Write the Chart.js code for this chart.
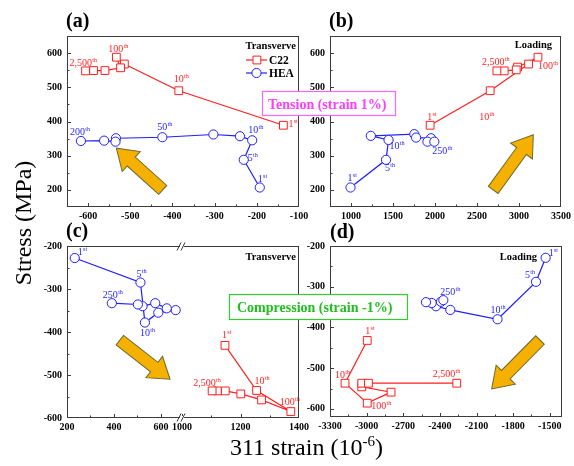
<!DOCTYPE html>
<html>
<head>
<meta charset="utf-8">
<title>311 strain vs stress</title>
<script src="https://cdn.jsdelivr.net/npm/chart.js@4.4.1/dist/chart.umd.min.js"></script>
<style>
  body { margin: 0; background: #fff; }
  #page { position: relative; width: 574px; height: 466px; }
  #page canvas { position: absolute; left: 0; top: 0; }
</style>
</head>
<body>
<div id="page">
  <canvas id="pa" width="574" height="466"></canvas>
  <canvas id="pb" width="574" height="466"></canvas>
  <canvas id="pc" width="574" height="466"></canvas>
  <canvas id="pd" width="574" height="466"></canvas>
</div>
<script>
// (a) tension, transverse
const aC22x = [-137, -385, -514, -533, -523, -560, -587, -606];
const aC22y = [389, 490, 568, 588, 557, 549, 549, 548];
const aHEAx = [-193, -231, -211, -240, -303, -424, -534, -535, -562, -617];
const aHEAy = [207, 288, 345, 357, 362, 354, 351, 341, 344, 343];

// (b) tension, loading
const bC22x = [1942, 2657, 3114, 3226, 2983, 2967, 2824, 2737];
const bC22y = [389, 490, 568, 588, 559, 551, 548, 548];
const bHEAx = [994, 1417, 1447, 1236, 1754, 1775, 1952, 1910, 1992];
const bHEAy = [207, 288, 346, 358, 363, 353, 351, 341, 341];

// (c) compression, transverse (broken x axis)
const cHEAx = [233, 513, 532, 589, 663, 625, 576, 522, 502, 391];
const cHEAy = [-228, -285, -378, -355, -349, -345, -333, -340, -336, -333];
const cC22x = [1147, 1255, 1372, 1272, 1201, 1148, 1121, 1103];
const cC22y = [-431, -536, -585, -558, -544, -537, -537, -537];

// (d) compression, loading
const dHEAx = [-1534, -1613, -1928, -2315, -2432, -2467, -2514, -2391, -2372];
const dHEAy = [-229, -288, -380, -357, -348, -340, -338, -337, -333];
const dC22x = [-2995, -3177, -2995, -2800, -3040, -3040, -2985, -2262];
const dC22y = [-432, -537, -586, -559, -546, -537, -537, -537];

// tick labels
const aXTicks = [-600, -500, -400, -300, -200, -100];
const bXTicks = [1000, 1500, 2000, 2500, 3000, 3500];
const tensionYTicks = [200, 300, 400, 500, 600];
const cXTicksLow = [200, 400, 600];
const cXTicksHigh = [1000, 1200, 1400];
const dXTicks = [-3300, -3000, -2700, -2400, -2100, -1800, -1500];
const compYTicks = [-600, -500, -400, -300, -200];

const serif = '"Liberation Serif", "Times New Roman", serif';
Chart.defaults.font.family = serif;
Chart.defaults.color = '#000';

const RED = '#ff1f1f', BLUE = '#1f1fff';
const W = 574, H = 466, YW = 40, XH = 22;

function steps(from, max, step) {
    const out = [];
    for (let v = from; v <= max + 1e-9; v += step) out.push(v);
    return out;
}

function axis(o, pos) {
    const all = steps(o.from, o.max, o.step);
    const s = {
        type: 'linear', position: pos, min: o.min, max: o.max,
        grid: { display: false, drawTicks: false },
        border: { display: false },
        ticks: {
            autoSkip: false, maxRotation: 0, padding: pos === 'left' ? 5 : 3,
            font: { size: 10, weight: 'bold' },
            callback: v => o.major.includes(v) ? String(v) : ''
        },
        afterBuildTicks: sc => { sc.ticks = all.map(v => ({ value: v })); },
        afterFit: sc => { if (pos === 'left') sc.width = YW; else sc.height = XH; }
    };
    if (o.stack) { s.stack = o.stack; s.stackWeight = o.weight; }
    return s;
}

function series(xs, ys, color, style, xAxisID) {
    return {
        data: xs.map((x, i) => ({ x, y: ys[i] })),
        showLine: true, borderColor: color, borderWidth: 1.2,
        pointStyle: style, pointRadius: style === 'rect' ? 5.5 : 4.6,
        pointBackgroundColor: '#fff', pointBorderColor: color, pointBorderWidth: 1,
        xAxisID: xAxisID
    };
}

function supText(ctx, x, y, base, sup, color, size) {
    size = size || 10;
    ctx.fillStyle = color;
    ctx.textAlign = 'left';
    ctx.textBaseline = 'alphabetic';
    ctx.font = size + 'px ' + serif;
    ctx.fillText(base, x, y);
    const w = ctx.measureText(base).width;
    ctx.font = (size * 0.62) + 'px ' + serif;
    ctx.fillText(sup, x + w + 0.3, y - size * 0.4);
}

function drawArrow(ctx, x0, y0, x1, y1) {
    const ang = Math.atan2(y1 - y0, x1 - x0), len = Math.hypot(x1 - x0, y1 - y0);
    const sw = 6, hw = 13.5, hl = 20;
    ctx.save();
    ctx.translate(x0, y0);
    ctx.rotate(ang);
    ctx.beginPath();
    ctx.moveTo(0, -sw);
    ctx.lineTo(len - hl, -sw);
    ctx.lineTo(len - hl, -hw);
    ctx.lineTo(len, 0);
    ctx.lineTo(len - hl, hw);
    ctx.lineTo(len - hl, sw);
    ctx.lineTo(0, sw);
    ctx.closePath();
    ctx.fillStyle = '#f5b000';
    ctx.fill();
    ctx.strokeStyle = '#6b6a2e';
    ctx.lineWidth = 1;
    ctx.stroke();
    ctx.restore();
}

function boldText(ctx, txt, x, y, size, align) {
    ctx.font = 'bold ' + size + 'px ' + serif;
    ctx.textAlign = align || 'left';
    ctx.fillStyle = '#000';
    ctx.fillText(txt, x, y);
}

// frame, inward ticks, arrow, point labels, corner text
function panelDecor(p) {
    return {
        id: 'panelDecor',
        beforeDatasetsDraw(chart) {
            const sc = chart.scales, ar = p.arrow, xs = sc[ar.axis];
            drawArrow(chart.ctx,
                xs.getPixelForValue(ar.from[0]), sc.y.getPixelForValue(ar.from[1]),
                xs.getPixelForValue(ar.to[0]), sc.y.getPixelForValue(ar.to[1]));
        },
        afterDatasetsDraw(chart) {
            const { ctx, chartArea: a, scales } = chart;
            ctx.save();
            ctx.strokeStyle = '#3c3c3c';
            ctx.lineWidth = 1;
            ctx.strokeRect(a.left + 0.5, a.top + 0.5, a.right - a.left - 1, a.bottom - a.top - 1);
            ctx.beginPath();
            Object.values(scales).forEach(s => {
                const spec = s.axis === 'y' ? p.y : p.x.find(ax => ax.id === s.id);
                s.ticks.forEach(t => {
                    const len = spec.major.includes(t.value) ? 4 : 2.5;
                    const px = Math.round(s.getPixelForValue(t.value)) + 0.5;
                    if (s.axis === 'y') {
                        if (px <= a.top + 1 || px >= a.bottom - 1) return;
                        ctx.moveTo(a.left, px); ctx.lineTo(a.left + len, px);
                    } else {
                        if (px <= a.left + 1 || px >= a.right - 1) return;
                        ctx.moveTo(px, a.bottom); ctx.lineTo(px, a.bottom - len);
                    }
                });
            });
            ctx.stroke();

            if (p.gapAt) {
                const bx = scales[p.gapAt].right;
                [a.top + 0.5, a.bottom - 0.5].forEach(ey => {
                    ctx.fillStyle = '#fff';
                    ctx.fillRect(bx - 2, ey - 1.5, 4, 3);
                    ctx.beginPath();
                    ctx.moveTo(bx - 5, ey + 4); ctx.lineTo(bx - 1, ey - 4);
                    ctx.moveTo(bx - 1, ey + 4); ctx.lineTo(bx + 3, ey - 4);
                    ctx.stroke();
                });
            }

            p.labels.forEach(l => {
                const pt = chart.getDatasetMeta(l.ds).data[l.i];
                supText(ctx, pt.x + l.dx, pt.y + l.dy, l.n, l.s, l.ds === 0 ? RED : BLUE);
            });

            const c = p.corner;
            boldText(ctx, c.text, a.right - c.dx, a.top + c.dy, 10.5, 'right');

            if (p.legend) {
                const ds = chart.data.datasets;
                [['C22', 60], ['HEA', 73]].forEach(([name, y], k) => {
                    const d = ds[k];
                    ctx.strokeStyle = d.borderColor;
                    ctx.lineWidth = 1.2;
                    ctx.beginPath(); ctx.moveTo(246, y); ctx.lineTo(267, y); ctx.stroke();
                    ctx.fillStyle = '#fff';
                    ctx.lineWidth = 1;
                    ctx.beginPath();
                    if (d.pointStyle === 'rect') ctx.rect(253, y - 3.9, 7.8, 7.8);
                    else ctx.arc(256.5, y, 4.6, 0, Math.PI * 2);
                    ctx.fill(); ctx.stroke();
                    boldText(ctx, name, 269, y + 4, 11.5);
                });
            }
            ctx.restore();
        }
    };
}

// page-level text: panel letters, axis titles, condition boxes
const pageDecor = {
    id: 'pageDecor',
    afterDraw(chart) {
        const ctx = chart.ctx;
        ctx.save();
        [['(a)', 66, 27], ['(b)', 329, 27], ['(c)', 66, 237], ['(d)', 330, 238]].forEach(([t, x, y]) => {
            boldText(ctx, t, x, y, 20);
        });

        ctx.fillStyle = '#000';
        ctx.font = '24px ' + serif;
        ctx.textAlign = 'center';
        ctx.save();
        ctx.translate(31, 223);
        ctx.rotate(-Math.PI / 2);
        ctx.fillText('Stress (MPa)', 0, 0);
        ctx.restore();

        ctx.textAlign = 'left';
        ctx.fillText('311 strain (10', 230, 455);
        let w = ctx.measureText('311 strain (10').width;
        ctx.font = '15px ' + serif;
        ctx.fillText('-6', 230 + w, 446);
        const w2 = ctx.measureText('-6').width;
        ctx.font = '24px ' + serif;
        ctx.fillText(')', 230 + w + w2, 455);

        [['Tension (strain 1%)', 262, 91, 133, 24, '#ff66ff', '#ff3cff', 268, 109],
         ['Compression (strain -1%)', 229, 294, 178, 25, '#33cc33', '#1fbf1f', 237, 312]]
            .forEach(([t, x, y, bw, bh, edge, col, tx, ty]) => {
                ctx.fillStyle = '#fff';
                ctx.fillRect(x, y, bw, bh);
                ctx.strokeStyle = edge;
                ctx.lineWidth = 1.2;
                ctx.strokeRect(x + 0.5, y + 0.5, bw, bh);
                ctx.font = 'bold 14px ' + serif;
                ctx.fillStyle = col;
                ctx.fillText(t, tx, ty);
            });
        ctx.restore();
    }
};

const panels = {
    pa: {
        area: [67, 36, 299, 207],
        x: [{ id: 'x', min: -650, max: -100, from: -650, step: 50, major: aXTicks }],
        y: { min: 150, max: 650, from: 150, step: 50, major: tensionYTicks },
        sets: [series(aC22x, aC22y, RED, 'rect', 'x'), series(aHEAx, aHEAy, BLUE, 'circle', 'x')],
        arrow: { axis: 'x', from: [-423, 200], to: [-533, 322] },
        corner: { text: 'Transverve', dx: 3, dy: 13 },
        legend: true,
        labels: [
            { ds: 0, i: 0, n: '1', s: 'st', dx: 5, dy: 2 },
            { ds: 0, i: 1, n: '10', s: 'th', dx: -5, dy: -9 },
            { ds: 0, i: 3, n: '100', s: 'th', dx: -8, dy: -5 },
            { ds: 0, i: 7, n: '2,500', s: 'th', dx: -16, dy: -5 },
            { ds: 1, i: 0, n: '1', s: 'st', dx: -2, dy: -6 },
            { ds: 1, i: 1, n: '5', s: 'th', dx: 4, dy: 1 },
            { ds: 1, i: 2, n: '10', s: 'th', dx: -4, dy: -7 },
            { ds: 1, i: 5, n: '50', s: 'th', dx: -5, dy: -7 },
            { ds: 1, i: 9, n: '200', s: 'th', dx: -11, dy: -6 }
        ]
    },
    pb: {
        area: [330, 36, 561, 207],
        x: [{ id: 'x', min: 750, max: 3500, from: 750, step: 250, major: bXTicks }],
        y: { min: 150, max: 650, from: 150, step: 50, major: tensionYTicks },
        sets: [series(bC22x, bC22y, RED, 'rect', 'x'), series(bHEAx, bHEAy, BLUE, 'circle', 'x')],
        arrow: { axis: 'x', from: [2693, 200], to: [3170, 361] },
        corner: { text: 'Loading', dx: 9, dy: 12 },
        labels: [
            { ds: 0, i: 0, n: '1', s: 'st', dx: -3, dy: -5 },
            { ds: 0, i: 1, n: '10', s: 'th', dx: -11, dy: 29 },
            { ds: 0, i: 3, n: '100', s: 'th', dx: 0, dy: 12 },
            { ds: 0, i: 7, n: '2,500', s: 'th', dx: -15, dy: -6 },
            { ds: 1, i: 0, n: '1', s: 'st', dx: -3, dy: -7 },
            { ds: 1, i: 1, n: '5', s: 'th', dx: -1, dy: 11 },
            { ds: 1, i: 2, n: '10', s: 'th', dx: 1, dy: 9 },
            { ds: 1, i: 8, n: '250', s: 'th', dx: -2, dy: 12 }
        ]
    },
    pc: {
        area: [67, 246, 299, 418],
        x: [
            { id: 'x1', min: 200, max: 690, from: 200, step: 100, major: cXTicksLow, stack: 'brk', weight: 115 },
            { id: 'x2', min: 1000, max: 1400, from: 1000, step: 100, major: cXTicksHigh, stack: 'brk', weight: 117 }
        ],
        y: { min: -600, max: -200, from: -600, step: 50, major: compYTicks },
        sets: [series(cC22x, cC22y, RED, 'rect', 'x2'), series(cHEAx, cHEAy, BLUE, 'circle', 'x1')],
        gapAt: 'x1',
        arrow: { axis: 'x1', from: [425, -419], to: [639, -510] },
        corner: { text: 'Transverve', dx: 3, dy: 13.5 },
        labels: [
            { ds: 0, i: 0, n: '1', s: 'st', dx: -3, dy: -7 },
            { ds: 0, i: 1, n: '10', s: 'th', dx: -2, dy: -6 },
            { ds: 0, i: 2, n: '100', s: 'th', dx: -11, dy: -7 },
            { ds: 0, i: 7, n: '2,500', s: 'th', dx: -19, dy: -5 },
            { ds: 1, i: 0, n: '1', s: 'st', dx: 3, dy: -3 },
            { ds: 1, i: 1, n: '5', s: 'th', dx: -4, dy: -6 },
            { ds: 1, i: 2, n: '10', s: 'th', dx: -5, dy: 13 },
            { ds: 1, i: 9, n: '250', s: 'th', dx: -9, dy: -5 }
        ]
    },
    pd: {
        area: [330, 246, 562, 417],
        x: [{ id: 'x', min: -3300, max: -1400, from: -3300, step: 150, major: dXTicks }],
        y: { min: -620, max: -200, from: -600, step: 50, major: compYTicks },
        sets: [series(dC22x, dC22y, RED, 'rect', 'x'), series(dHEAx, dHEAy, BLUE, 'circle', 'x')],
        arrow: { axis: 'x', from: [-1580, -431], to: [-1976, -551] },
        corner: { text: 'Loading', dx: 25, dy: 14 },
        labels: [
            { ds: 0, i: 0, n: '1', s: 'st', dx: -2, dy: -6 },
            { ds: 0, i: 1, n: '10', s: 'th', dx: -10, dy: -5 },
            { ds: 0, i: 2, n: '100', s: 'th', dx: 4, dy: 6 },
            { ds: 0, i: 7, n: '2,500', s: 'th', dx: -24, dy: -6 },
            { ds: 1, i: 0, n: '1', s: 'st', dx: 3, dy: -2 },
            { ds: 1, i: 1, n: '5', s: 'th', dx: -11, dy: -4 },
            { ds: 1, i: 2, n: '10', s: 'th', dx: -7, dy: -6 },
            { ds: 1, i: 8, n: '250', s: 'th', dx: -3, dy: -5 }
        ]
    }
};

function makePanel(canvasId, p, extra) {
    const scales = { y: axis(p.y, 'left') };
    p.x.forEach(ax => { scales[ax.id] = axis(ax, 'bottom'); });
    const [L, T, R, B] = p.area;
    const plugins = [panelDecor(p)];
    if (extra) plugins.push(extra);
    return new Chart(document.getElementById(canvasId), {
        type: 'scatter',
        data: { datasets: p.sets },
        options: {
            responsive: false,
            animation: false,
            events: [],
            layout: { padding: { left: L - YW, top: T, right: W - R, bottom: H - B - XH } },
            plugins: { legend: { display: false }, tooltip: { enabled: false } },
            scales
        },
        plugins
    });
}

makePanel('pa', panels.pa);
makePanel('pb', panels.pb);
makePanel('pc', panels.pc);
makePanel('pd', panels.pd, pageDecor);
</script>
</body>
</html>
